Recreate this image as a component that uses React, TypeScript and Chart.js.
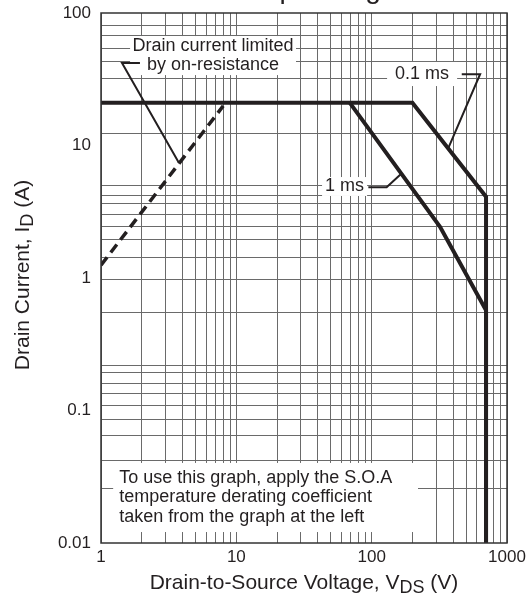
import { useEffect, useRef } from "react";
import { Chart, registerables } from "chart.js";

Chart.register(...registerables);

// ---- data ----
const ms01Voltage = [1, 200, 700, 700];
const ms01Current = [21, 21, 4.1, 0.01];
const ms1Voltage = [69, 320, 700, 700];
const ms1Current = [21, 2.43, 0.57, 0.01];
const ronVoltage = [1, 8];
const ronCurrent = [1.25, 19.9];

const xTickLabels = [1, 10, 100, 1000];
const yTickLabels = [0.01, 0.1, 1, 10, 100];
const xGridValues = [
  1, 2, 3, 4, 5, 6, 7, 8, 9, 10, 20, 30, 40, 50, 60, 70, 80, 90, 100, 200, 300,
  400, 500, 600, 700, 800, 900, 1000,
];
const yGridValues = [
  81, 68, 54.4, 42.7, 32.3, 12.4, 4.95, 4.23, 3.68, 3.04, 2.43, 1.94, 1.44,
  0.966, 0.553, 0.217, 0.192, 0.161, 0.135, 0.11, 0.0848, 0.0643, 0.0423, 0.026,
];

const titleText = "Safe Operating Area";
const xTitleParts = [
  { t: "Drain-to-Source Voltage, V", sub: false },
  { t: "DS", sub: true },
  { t: " (V)", sub: false },
];
const yTitleParts = [
  { t: "Drain Current, I", sub: false },
  { t: "D", sub: true },
  { t: " (A)", sub: false },
];

// annotation boxes in data coordinates [vMin, vMax, iMin, iMax]
const noteBoxes = [
  { box: [1.64, 27.6, 34, 67], lines: ["Drain current limited", "by on-resistance"], align: "center", lh: 18.5 },
  { box: [130, 428, 28.1, 42.7], lines: ["0.1 ms"], align: "center", lh: 19 },
  { box: [43, 92.5, 4.16, 5.78], lines: ["1 ms"], align: "center", lh: 19 },
  {
    box: [1.23, 220, 0.0121, 0.0402],
    lines: [
      "To use this graph, apply the S.O.A",
      "temperature derating coefficient",
      "taken from the graph at the left",
    ],
    align: "left",
    lh: 19.5,
  },
];
// leader lines in data coordinates
const leaders = [
  [[1.94, 42], [1.43, 42], [3.77, 7.38]],
  [[463, 34.5], [633, 34.5], [369, 9.6]],
  [[94.5, 4.84], [129, 4.84], [167, 6.17]],
];

const FONT = "'Liberation Sans', Arial, Helvetica, sans-serif";
const INK = "#231f20";
const GRID = "#6a6a6a";

function toXY(xs: number[], ys: number[]) {
  return xs.map((x, i) => ({ x, y: ys[i] }));
}

function drawParts(ctx: CanvasRenderingContext2D, parts: { t: string; sub: boolean }[], cx: number, cy: number, size: number, subSize: number) {
  const widths = parts.map((p) => {
    ctx.font = `${p.sub ? subSize : size}px ${FONT}`;
    return ctx.measureText(p.t).width;
  });
  const total = widths.reduce((a, b) => a + b, 0);
  let x = cx - total / 2;
  ctx.textAlign = "left";
  ctx.textBaseline = "middle";
  parts.forEach((p, i) => {
    ctx.font = `${p.sub ? subSize : size}px ${FONT}`;
    ctx.fillText(p.t, x, p.sub ? cy + 5 : cy);
    x += widths[i];
  });
}

const decorPlugin = {
  id: "decor",
  afterDatasetsDraw(chart: any) {
    const { ctx, scales } = chart;
    const xs = scales.x;
    const ys = scales.y;
    ctx.save();
    noteBoxes.forEach((n) => {
      const x1 = xs.getPixelForValue(n.box[0]);
      const x2 = xs.getPixelForValue(n.box[1]);
      const y1 = ys.getPixelForValue(n.box[3]);
      const y2 = ys.getPixelForValue(n.box[2]);
      ctx.fillStyle = "#ffffff";
      ctx.fillRect(x1, y1, x2 - x1, y2 - y1);
      ctx.fillStyle = INK;
      ctx.font = `18px ${FONT}`;
      ctx.textBaseline = "middle";
      const cy = (y1 + y2) / 2;
      const start = cy - ((n.lines.length - 1) * n.lh) / 2;
      n.lines.forEach((line, i) => {
        if (n.align === "center") {
          ctx.textAlign = "center";
          ctx.fillText(line, (x1 + x2) / 2, start + i * n.lh);
        } else {
          ctx.textAlign = "left";
          ctx.fillText(line, x1 + 6, start + i * n.lh);
        }
      });
    });
    ctx.strokeStyle = INK;
    ctx.lineWidth = 2;
    ctx.lineJoin = "miter";
    leaders.forEach((pts) => {
      ctx.beginPath();
      pts.forEach((p, i) => {
        const px = xs.getPixelForValue(p[0]);
        const py = ys.getPixelForValue(p[1]);
        if (i === 0) ctx.moveTo(px, py);
        else ctx.lineTo(px, py);
      });
      ctx.stroke();
    });
    ctx.restore();
  },
  afterDraw(chart: any) {
    const { ctx, chartArea } = chart;
    ctx.save();
    ctx.strokeStyle = "#333";
    ctx.lineWidth = 1.5;
    ctx.strokeRect(chartArea.left, chartArea.top, chartArea.right - chartArea.left, chartArea.bottom - chartArea.top);
    // title (cut off at the top edge, as in the reference)
    ctx.fillStyle = INK;
    ctx.font = `28px ${FONT}`;
    ctx.textAlign = "center";
    ctx.textBaseline = "alphabetic";
    ctx.fillText(titleText, (chartArea.left + chartArea.right) / 2 + 16, -2);
    // axis titles
    drawParts(ctx, xTitleParts, (chartArea.left + chartArea.right) / 2, chartArea.bottom + 40, 21, 18);
    ctx.translate(23, (chartArea.top + chartArea.bottom) / 2 - 3);
    ctx.rotate(-Math.PI / 2);
    drawParts(ctx, yTitleParts, 0, 0, 21, 18);
    ctx.restore();
  },
};

export default function App() {
  const ref = useRef<HTMLCanvasElement | null>(null);
  useEffect(() => {
    if (!ref.current) return;
    const lineStyle = {
      borderColor: INK,
      borderWidth: 4,
      pointRadius: 0,
      fill: false,
      tension: 0,
      borderJoinStyle: "miter" as const,
    };
    const chart = new Chart(ref.current, {
      type: "line",
      data: {
        datasets: [
          { label: "0.1 ms", data: toXY(ms01Voltage, ms01Current), ...lineStyle },
          { label: "1 ms", data: toXY(ms1Voltage, ms1Current), ...lineStyle },
          {
            label: "R_DS(on) limit",
            data: toXY(ronVoltage, ronCurrent),
            ...lineStyle,
            borderWidth: 3.5,
            borderDash: [10, 6],
            borderCapStyle: "butt",
          },
        ],
      },
      options: {
        animation: false,
        responsive: false,
        devicePixelRatio: 1,
        layout: { padding: { top: 13, right: 25, left: 0, bottom: 0 } },
        plugins: { legend: { display: false }, tooltip: { enabled: false }, title: { display: false } },
        scales: {
          x: {
            type: "logarithmic",
            min: 1,
            max: 1000,
            afterBuildTicks: (s: any) => {
              s.ticks = xGridValues.map((v) => ({ value: v }));
            },
            afterFit: (s: any) => {
              s.height = 57;
              s.paddingLeft = 0;
              s.paddingRight = 0;
            },
            ticks: {
              autoSkip: false,
              maxRotation: 0,
              padding: 4,
              color: INK,
              font: { family: FONT, size: 17 },
              callback: (v: any) => (xTickLabels.includes(Number(v)) ? String(v) : ""),
            },
            grid: { color: GRID, lineWidth: 1, drawTicks: false },
            border: { display: false },
          },
          y: {
            type: "logarithmic",
            min: 0.01,
            max: 100,
            afterBuildTicks: (s: any) => {
              const all = [...yTickLabels, ...yGridValues].sort((a, b) => a - b);
              s.ticks = all.map((v) => ({ value: v }));
            },
            afterFit: (s: any) => {
              s.width = 101;
              s.paddingTop = 0;
              s.paddingBottom = 0;
            },
            ticks: {
              autoSkip: false,
              padding: 10,
              color: INK,
              font: { family: FONT, size: 17 },
              callback: (v: any) => (yTickLabels.includes(Number(v)) ? String(v) : ""),
            },
            grid: {
              color: (c: any) => (yTickLabels.includes(c.tick?.value) ? "rgba(0,0,0,0)" : GRID),
              lineWidth: 1,
              drawTicks: false,
            },
            border: { display: false },
          },
        },
      },
      plugins: [decorPlugin],
    });
    return () => chart.destroy();
  }, []);
  return (
    <div style={{ position: "fixed", left: 0, top: 0, width: 532, height: 600, background: "#fff" }}>
      <canvas ref={ref} width={532} height={600} style={{ width: 532, height: 600, display: "block" }} />
    </div>
  );
}
